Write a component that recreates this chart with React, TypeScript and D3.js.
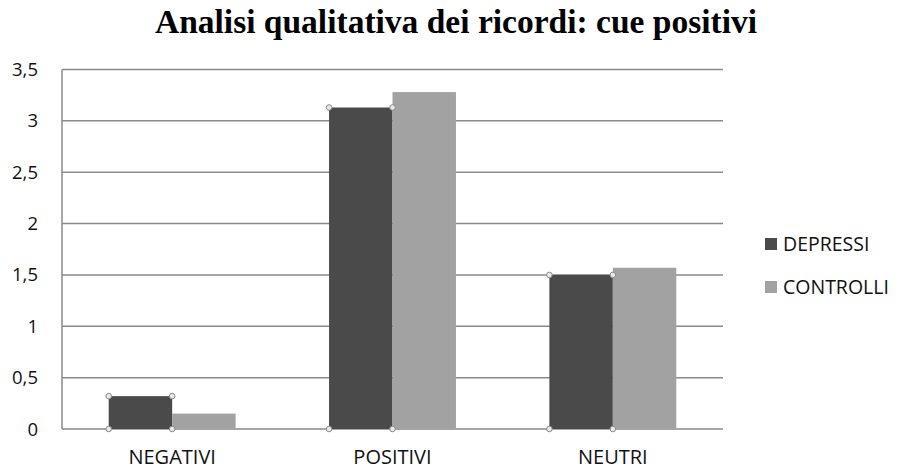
import React from "react";
import * as d3 from "d3";

const categories = ["NEGATIVI", "POSITIVI", "NEUTRI"];
const seriesNames = ["DEPRESSI", "CONTROLLI"];
const depressi = [0.32, 3.13, 1.5];
const controlli = [0.15, 3.28, 1.57];
const yTicks = [0, 0.5, 1, 1.5, 2, 2.5, 3, 3.5];
const title = "Analisi qualitativa dei ricordi: cue positivi";

const W = 899;
const H = 470;
const colors = ["#4a4a4a", "#a2a2a2"];

export default function App() {
  const left = 62, right = 723, top = 69.5, bottom = 429;
  const x = d3.scaleBand().domain(categories).range([left, right]).paddingInner(0.424).paddingOuter(0.212);
  const y = d3.scaleLinear().domain([0, 3.5]).range([bottom, top]);
  const x1 = d3.scaleBand().domain(seriesNames).range([0, x.bandwidth()]);
  const series = [depressi, controlli];
  const fmt = (v: number) => String(v).replace(".", ",");
  const sans = "'Open Sans', 'Liberation Sans', sans-serif";

  return (
    <svg width={W} height={H} style={{ position: "absolute", left: 0, top: 0, background: "#fff" }}>
      <text x={456} y={33} textAnchor="middle" fontFamily="'Liberation Serif', 'Times New Roman', serif" fontWeight="bold" fontSize={33.5} fill="#000">
        {title}
      </text>
      {yTicks.map((t) => (
        <g key={t}>
          <line x1={left} x2={right} y1={y(t)} y2={y(t)} stroke="#8a8a8a" strokeWidth={1.5} />
          <text x={38} y={y(t) + 6.5} textAnchor="end" fontFamily={sans} fontSize={18.5} fill="#111">
            {fmt(t)}
          </text>
        </g>
      ))}
      <line x1={left} x2={left} y1={top} y2={bottom} stroke="#8a8a8a" strokeWidth={1.5} />
      {categories.map((c, i) => (
        <g key={c}>
          {series.map((s, j) => (
            <rect
              key={j}
              x={(x(c) as number) + (x1(seriesNames[j]) as number)}
              y={y(s[i])}
              width={x1.bandwidth()}
              height={y(0) - y(s[i])}
              fill={colors[j]}
            />
          ))}
          {(() => {
            const bx = (x(c) as number) + (x1(seriesNames[0]) as number);
            const pts = [
              [bx, y(depressi[i])],
              [bx + x1.bandwidth(), y(depressi[i])],
              [bx, y(0)],
              [bx + x1.bandwidth(), y(0)],
            ];
            return pts.map((p, k) => (
              <circle key={k} cx={p[0]} cy={p[1]} r={2.8} fill="#e8e8e8" stroke="#8a8a8a" strokeWidth={1} />
            ));
          })()}
          <text x={(x(c) as number) + x.bandwidth() / 2} y={464} textAnchor="middle" fontFamily={sans} fontSize={20} fill="#111">
            {c}
          </text>
        </g>
      ))}
      {seriesNames.map((n, j) => (
        <g key={n} transform={`translate(765, ${238 + j * 43})`}>
          <rect x={0} y={0} width={12} height={12} fill={colors[j]} />
          <text x={18} y={12.5} fontFamily={sans} fontSize={19.5} fill="#111">
            {n}
          </text>
        </g>
      ))}
    </svg>
  );
}
